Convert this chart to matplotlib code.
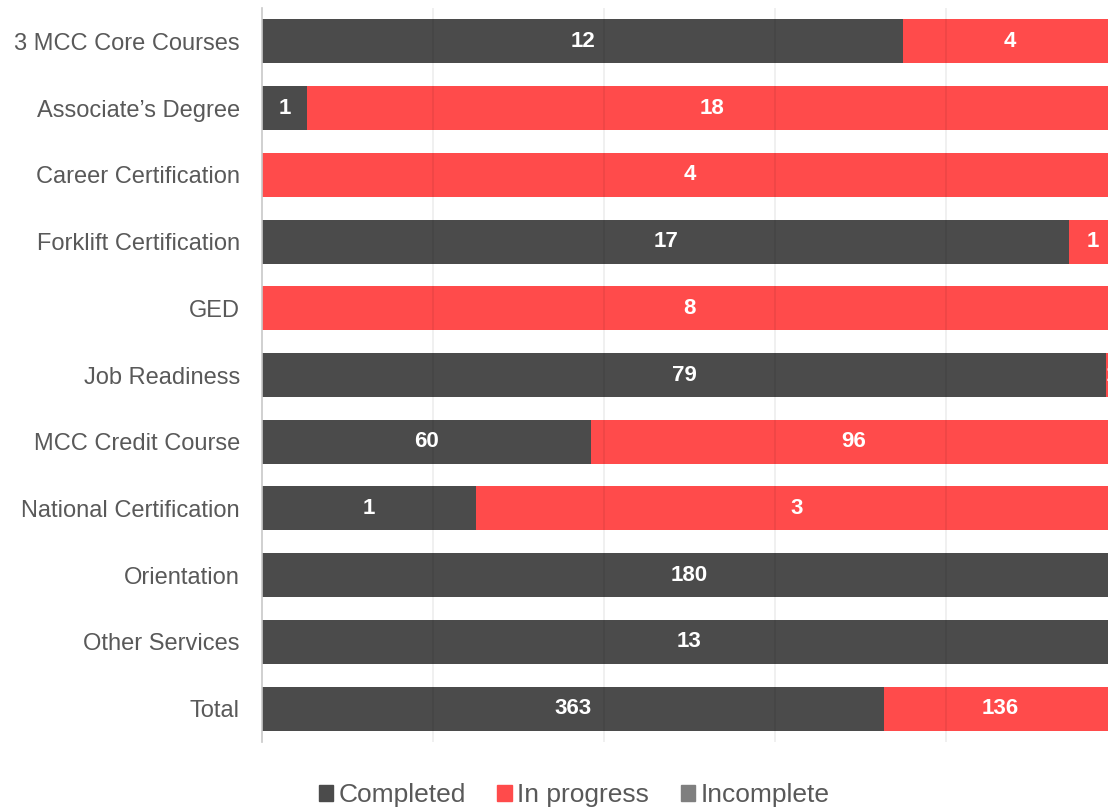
import matplotlib.pyplot as plt
import matplotlib.patches as mpatches

plt.rcParams['font.family'] = ['Liberation Sans', 'DejaVu Sans']

programs = ["3 MCC Core Courses", "Associate\u2019s Degree", "Career Certification",
            "Forklift Certification", "GED", "Job Readiness", "MCC Credit Course",
            "National Certification", "Orientation", "Other Services", "Total"]
completed = [12, 1, 0, 17, 0, 79, 60, 1, 180, 13, 363]
in_progress = [4, 18, 4, 1, 8, 1, 96, 3, 0, 0, 136]
incomplete = [0, 0, 0, 0, 0, 0, 0, 0, 0, 0, 0]

c_done = "#4b4b4b"
c_prog = "#ff4b4b"
c_inc = "#7f7f7f"

fig = plt.figure(figsize=(11.08, 8.10), dpi=100)
ax = fig.add_axes([262 / 1108, 1 - 742 / 810, (1117 - 262) / 1108, (742 - 8) / 810])

y = list(range(len(programs)))
totals = [a + b + c for a, b, c in zip(completed, in_progress, incomplete)]
p_done = [a / t for a, t in zip(completed, totals)]
p_prog = [b / t for b, t in zip(in_progress, totals)]
p_inc = [c / t for c, t in zip(incomplete, totals)]
left2 = p_done
left3 = [a + b for a, b in zip(p_done, p_prog)]

h = 0.66
ax.barh(y, p_done, height=h, color=c_done, zorder=2)
ax.barh(y, p_prog, left=left2, height=h, color=c_prog, zorder=2)
ax.barh(y, p_inc, left=left3, height=h, color=c_inc, zorder=2)

for i in y:
    if completed[i]:
        ax.text(p_done[i] / 2, i, str(completed[i]), color="white", fontweight="bold",
                fontsize=16, ha="center", va="center", zorder=4)
    if in_progress[i]:
        ax.text(left2[i] + p_prog[i] / 2, i, str(in_progress[i]), color="white",
                fontweight="bold", fontsize=16, ha="center", va="center", zorder=4)

ax.set_xlim(0, 1)
ax.set_ylim(10.5, -0.5)
for gx in [0.2, 0.4, 0.6, 0.8]:
    ax.axvline(gx, color="black", alpha=0.07, lw=1.2, zorder=3)
ax.set_xticks([])
ax.set_yticks(y)
ax.set_yticklabels(programs, fontsize=17, color="#595959")
ax.tick_params(axis="y", length=0, pad=16)
for s in ["top", "right", "bottom"]:
    ax.spines[s].set_visible(False)
ax.spines["left"].set_color("#c8c8c8")
ax.spines["left"].set_linewidth(1.2)

handles = [mpatches.Patch(color=c_done, label="Completed"),
           mpatches.Patch(color=c_prog, label="In progress"),
           mpatches.Patch(color=c_inc, label="Incomplete")]
leg = fig.legend(handles=handles, loc="center", bbox_to_anchor=(574 / 1108, 1 - 795 / 810),
                 ncol=3, frameon=False, fontsize=19, handlelength=0.55, handleheight=0.55,
                 handletextpad=0.2, columnspacing=1.2)
for t in leg.get_texts():
    t.set_color("#595959")

fig.savefig("out.png", dpi=100)
